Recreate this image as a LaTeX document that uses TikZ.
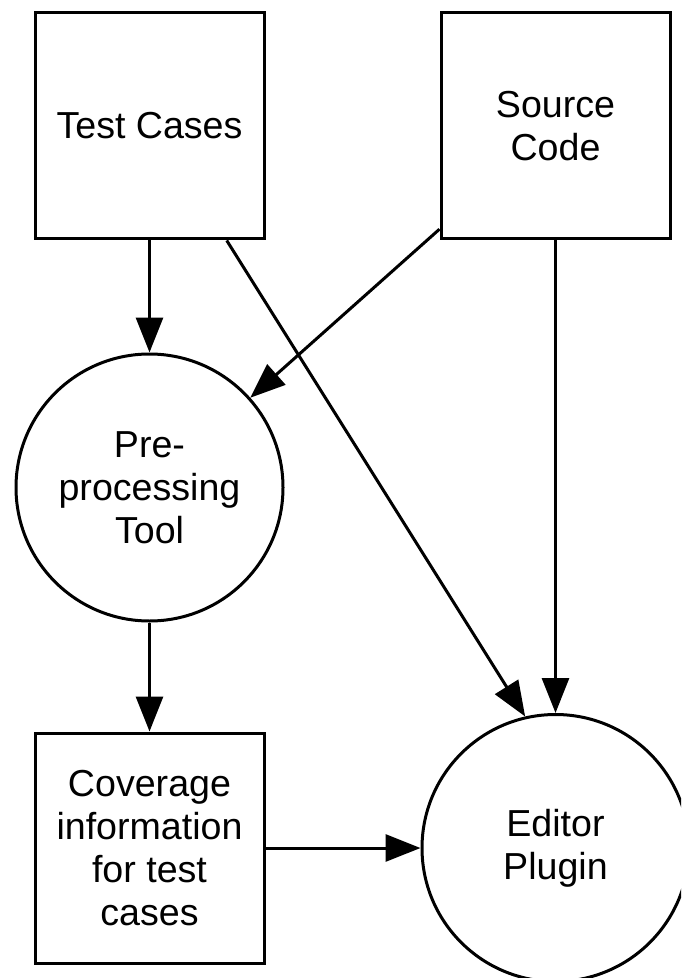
\documentclass[tikz,border=0pt]{standalone}
\usepackage{fontspec}
\setmainfont{Liberation Sans}
\usetikzlibrary{arrows.meta}
\tikzset{
  boxnode/.style={draw, line width=1.5pt, rectangle, inner sep=0pt, minimum width=114.5pt, align=center, font=\fontsize{18.8}{21.5}\selectfont},
  circnode/.style={draw, line width=1.5pt, circle, inner sep=0pt, minimum size=133.5pt, align=center, font=\fontsize{18.8}{21.5}\selectfont},
  conn/.style={line width=1.5pt, -{Triangle[length=17.5pt, width=13.5pt]}}
}
\begin{document}
\begin{tikzpicture}[x=0.5pt, y=-0.5pt]
\useasboundingbox (0,0) rectangle (681,978);
\clip (0,0) rectangle (681,978);
\fill[white] (0,0) rectangle (681,978);
\node[boxnode, minimum height=113pt] (tc) at (149.5,126) {Test Cases};
\node[boxnode, minimum height=113pt] (sc) at (555.5,126) {Source\\Code};
\node[circnode] (pre) at (149.5,487.5) {Pre-\\processing\\Tool};
\node[boxnode, minimum height=115pt] (cov) at (149.5,848) {Coverage\\information\\for test\\cases};
\node[circnode] (ed) at (555.5,848) {Editor\\Plugin};
\draw[conn] (tc.south) -- (pre.north);
\draw[conn] (sc) -- (pre);
\draw[conn] (tc.-56.25) -- (ed.103);
\draw[conn] (sc.south) -- (ed.north);
\draw[conn] (pre.south) -- (cov.north);
\draw[conn] (cov.east) -- (ed.west);
\end{tikzpicture}
\end{document}
